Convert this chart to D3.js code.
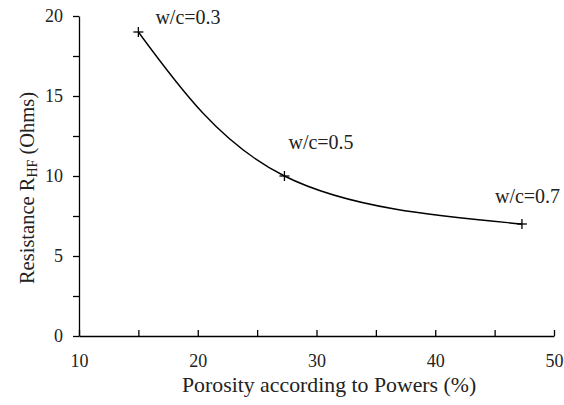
<!DOCTYPE html>
<html>
<head>
<meta charset="utf-8">
<script src="https://cdn.jsdelivr.net/npm/d3@7"></script>
<style>
    body { margin: 0; background: #fff; }
    svg text { font-family: "Liberation Serif", "DejaVu Serif", serif !important; fill: #222; }
    .axis path, .axis line { stroke: #000; stroke-width: 1.3; }
    .axis text { font-size: 18px; }
</style>
</head>
<body>
<div id="chart"></div>
<script>
(function() {
    // data
    var porosity = [15, 27.3, 47.3];
    var resistance = [19, 10, 7];
    var wcLabels = ["w/c=0.3", "w/c=0.5", "w/c=0.7"];
    var xTicks = [10, 20, 30, 40, 50];
    var yTicks = [0, 5, 10, 15, 20];

    var margin = { top: 16, left: 79, right: 10, bottom: 69 };

    var xPositionScale = d3.scaleLinear().domain([10, 50]).range([0, 475]);
    var yPositionScale = d3.scaleLinear().domain([0, 20]).range([320, 0]);

    var svg = d3.select("#chart")
        .append("svg")
        .attr("width", 564)
        .attr("height", 405)
        .attr("font-family", "Liberation Serif")
        .append("g")
        .attr("transform", "translate(" + margin.left + "," + margin.top + ")");

    var points = porosity.map(function(p, i) {
        return { x: p, y: resistance[i], label: wcLabels[i] };
    });

    // x axis, ticks pointing up, minor ticks every 5
    var xAxis = d3.axisBottom(xPositionScale)
        .tickValues(d3.range(10, 51, 5))
        .tickSizeInner(-6)
        .tickSizeOuter(0)
        .tickFormat(function(d) { return xTicks.indexOf(d) >= 0 ? d : ""; });

    svg.append("g")
        .attr("class", "axis x-axis")
        .attr("transform", "translate(0,320)")
        .call(xAxis)
        .attr("font-family", null)
        .selectAll("text")
        .attr("dy", "1.56em");

    var yAxis = d3.axisLeft(yPositionScale)
        .tickValues(d3.range(0, 20.1, 2.5))
        .tickSizeInner(6)
        .tickSizeOuter(0)
        .tickFormat(function(d) { return yTicks.indexOf(d) >= 0 ? d : ""; });

    svg.append("g")
        .attr("class", "axis y-axis")
        .call(yAxis)
        .attr("font-family", null)
        .selectAll("text")
        .attr("x", -16);

    // smooth curve through points
    var line = d3.line()
        .x(function(d) { return xPositionScale(d.x); })
        .y(function(d) { return yPositionScale(d.y); })
        .curve(d3.curveNatural);

    svg.append("path")
        .datum(points)
        .attr("d", line)
        .attr("fill", "none")
        .attr("stroke", "#000")
        .attr("stroke-width", 1.4);

    // + markers
    var marks = svg.selectAll(".mark")
        .data(points)
        .enter().append("g")
        .attr("class", "mark")
        .attr("transform", function(d) {
            return "translate(" + xPositionScale(d.x) + "," + yPositionScale(d.y) + ")";
        });
    marks.append("line").attr("x1", -5).attr("x2", 5).attr("stroke", "#000").attr("stroke-width", 1.3);
    marks.append("line").attr("y1", -5).attr("y2", 5).attr("stroke", "#000").attr("stroke-width", 1.3);

    var labelOffsets = [[17, -8], [4, -27], [-27, -21]];
    svg.selectAll(".wc-label")
        .data(points)
        .enter().append("text")
        .attr("class", "wc-label")
        .attr("x", function(d, i) { return xPositionScale(d.x) + labelOffsets[i][0]; })
        .attr("y", function(d, i) { return yPositionScale(d.y) + labelOffsets[i][1]; })
        .style("font-size", "20px")
        .text(function(d) { return d.label; });

    svg.append("text")
        .attr("x", 103)
        .attr("y", 376)
        .style("font-size", "21.8px")
        .text("Porosity according to Powers (%)");

    var yTitle = svg.append("text")
        .attr("transform", "translate(-45,172) rotate(-90)")
        .attr("text-anchor", "middle")
        .style("font-size", "20.5px");
    yTitle.append("tspan").text("Resistance R");
    yTitle.append("tspan").attr("dy", 3).style("font-size", "14px").text("HF");
    yTitle.append("tspan").attr("dy", -3).text(" (Ohms)");
})();
</script>
</body>
</html>
